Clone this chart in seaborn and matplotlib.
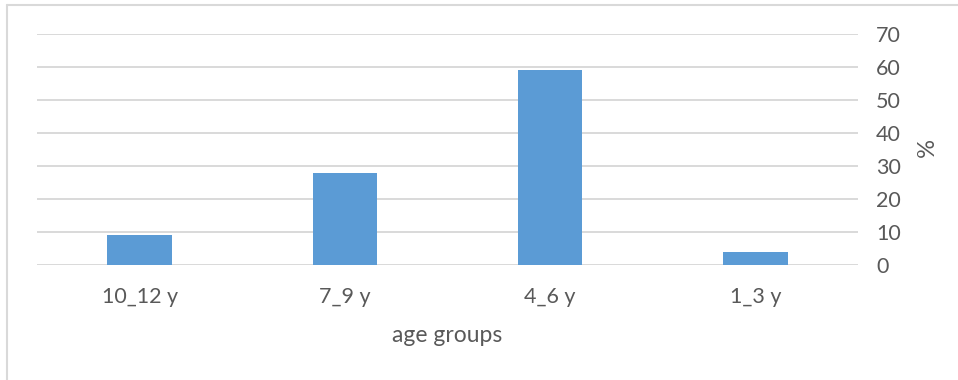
import matplotlib
matplotlib.use("Agg")
import matplotlib.pyplot as plt
import seaborn as sns
import pandas as pd
from matplotlib.lines import Line2D

categories = ["10_12 y", "7_9 y", "4_6 y", "1_3 y"]
values = [9, 28, 59, 4]
yticks = [0, 10, 20, 30, 40, 50, 60, 70]

df = pd.DataFrame({"group": categories, "pct": values})

sns.set_theme(style="white")
plt.rcParams["font.family"] = ["Lato", "DejaVu Sans"]
text_color = "#595959"
grid_color = "#d9d9d9"

fig = plt.figure(figsize=(9.58, 3.8), dpi=100)
ax = fig.add_axes([37 / 958, 1 - 265 / 380, (858 - 37) / 958, (265 - 34) / 380])

sns.barplot(data=df, x="group", y="pct", ax=ax, color="#5b9bd5",
            saturation=1, width=0.315, order=categories, linewidth=0)

ax.set_ylim(0, 70)
ax.set_xlim(-0.5, 3.5)
ax.set_yticks(yticks)
ax.yaxis.tick_right()
ax.yaxis.set_label_position("right")
ax.yaxis.grid(True, color=grid_color, linewidth=1.4)
ax.set_axisbelow(True)
for s in ax.spines.values():
    s.set_visible(False)
ax.tick_params(axis="y", length=0, pad=13, labelsize=15.5, labelcolor=text_color)
ax.tick_params(axis="x", length=0, pad=16, labelsize=15.5, labelcolor=text_color)
ax.set_xlabel("age groups", fontsize=16.5, color=text_color, labelpad=13)
ax.set_ylabel("%", fontsize=17, color=text_color, rotation=270, labelpad=15, va="center")

# outer chart border (left and top visible)
fig.add_artist(Line2D([7 / 958, 7 / 958], [0, 1 - 5 / 380], transform=fig.transFigure,
                      color=grid_color, linewidth=1.5))
fig.add_artist(Line2D([7 / 958, 1], [1 - 5 / 380, 1 - 5 / 380], transform=fig.transFigure,
                      color=grid_color, linewidth=1.5))

fig.savefig("out.png", dpi=100, facecolor="white")
